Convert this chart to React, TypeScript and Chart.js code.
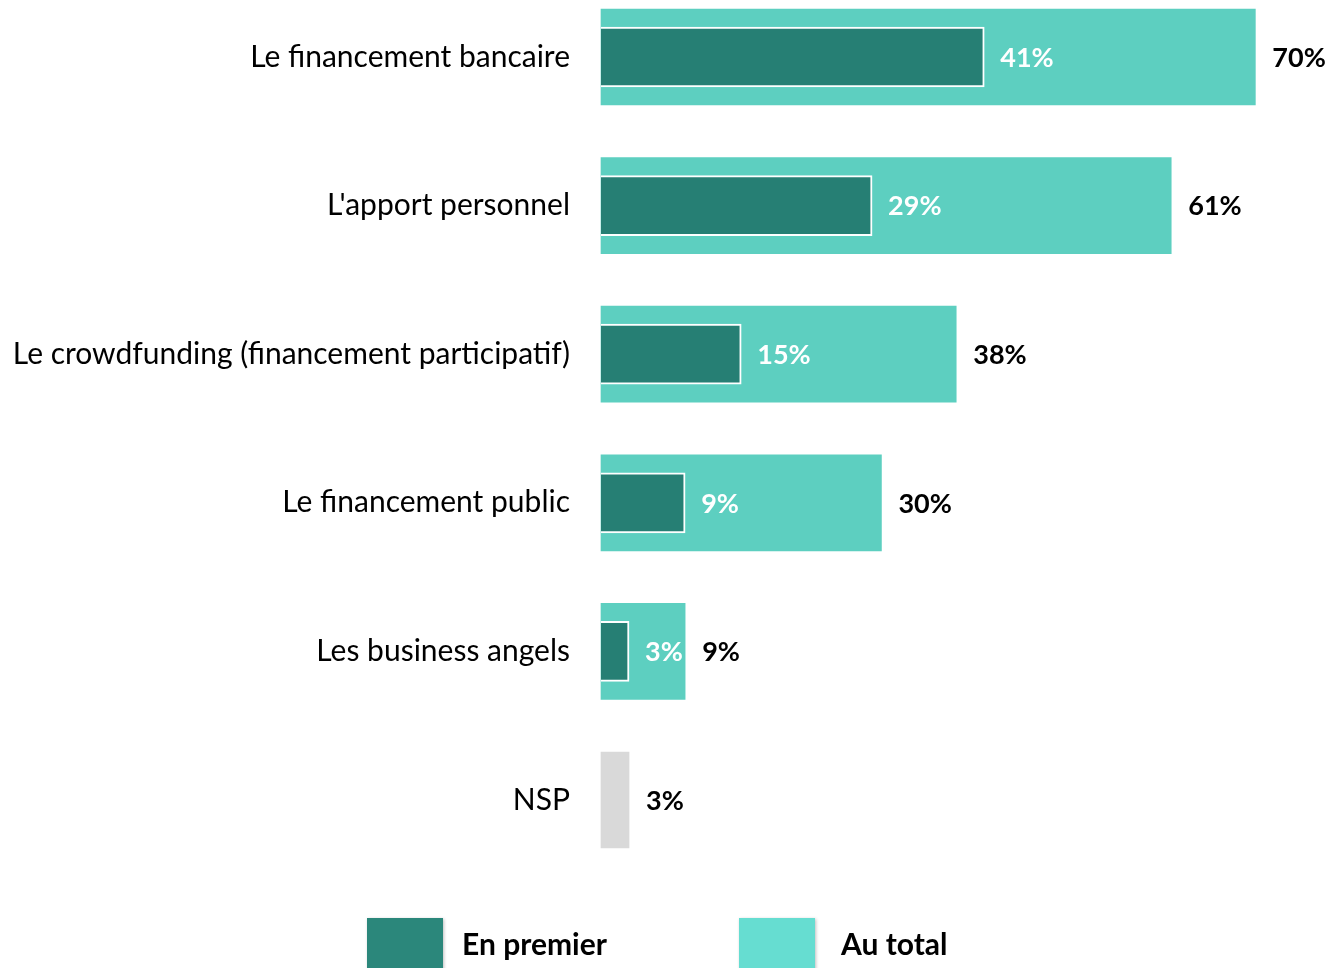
import React, { useEffect, useRef } from "react";
import { Chart, registerables } from "chart.js";

Chart.register(...registerables);

const CATEGORIES = [
  "Le financement bancaire",
  "L'apport personnel",
  "Le crowdfunding (financement participatif)",
  "Le financement public",
  "Les business angels",
  "NSP",
];
const EN_PREMIER: (number | null)[] = [41, 29, 15, 9, 3, null];
const AU_TOTAL = [70, 61, 38, 30, 9, 3];
const SERIES_NAMES = ["En premier", "Au total"];

const DARK = "#267F74";
const LIGHT = "#5DCFC0";
const GRAY = "#D9D9D9";
const LEGEND_DARK = "#2B877B";
const LEGEND_LIGHT = "#66DDD1";
const X_MAX = 78.2;
const FONT = "Lato, 'Open Sans', sans-serif";

const valueLabels = {
  id: "valueLabels",
  afterDatasetsDraw(chart: any) {
    const ctx = chart.ctx;
    ctx.save();
    ctx.textBaseline = "middle";
    ctx.textAlign = "left";
    ctx.font = `bold 27px ${FONT}`;
    chart.data.datasets.forEach((ds: any, di: number) => {
      const meta = chart.getDatasetMeta(di);
      meta.data.forEach((el: any, i: number) => {
        const v = ds.data[i];
        if (v === null || v === undefined) return;
        ctx.fillStyle = di === 0 ? "#FFFFFF" : "#000000";
        const off = di === 0 ? 16 : 17;
        ctx.fillText(`${v}%`, el.x + off, el.y + 1);
      });
    });
    ctx.restore();
  },
};

const customLegend = {
  id: "customLegend",
  afterDraw(chart: any) {
    const ctx = chart.ctx;
    const cx = chart.width / 2;
    const top = 918;
    const items = [
      { x: cx - 299, tx: cx - 204, color: LEGEND_DARK, text: SERIES_NAMES[0] },
      { x: cx + 73, tx: cx + 175, color: LEGEND_LIGHT, text: SERIES_NAMES[1] },
    ];
    ctx.save();
    ctx.font = `bold 30px ${FONT}`;
    ctx.textBaseline = "middle";
    ctx.textAlign = "left";
    items.forEach((it) => {
      ctx.shadowColor = "rgba(0,0,0,0.25)";
      ctx.shadowBlur = 3;
      ctx.shadowOffsetX = 1;
      ctx.shadowOffsetY = 1;
      ctx.fillStyle = it.color;
      ctx.fillRect(it.x, top, 76, 60);
      ctx.shadowColor = "transparent";
      ctx.fillStyle = "#000";
      ctx.fillText(it.text, it.tx, 945);
    });
    ctx.restore();
  },
};

export default function App() {
  const ref = useRef<HTMLCanvasElement>(null);
  useEffect(() => {
    document.body.style.margin = "0";
    const chart = new Chart(ref.current!, {
      type: "bar",
      data: {
        labels: CATEGORIES,
        datasets: [
          {
            label: SERIES_NAMES[0],
            data: EN_PREMIER,
            backgroundColor: DARK,
            borderColor: "#FFFFFF",
            borderWidth: 2,
            borderSkipped: "start",
            barThickness: 60,
          },
          {
            label: SERIES_NAMES[1],
            data: AU_TOTAL,
            backgroundColor: AU_TOTAL.map((_, i) => (i === AU_TOTAL.length - 1 ? GRAY : LIGHT)),
            borderWidth: 0,
            barThickness: 96,
          },
        ],
      },
      options: {
        indexAxis: "y",
        animation: false,
        responsive: false,
        layout: { padding: { top: 57, bottom: 168, left: 0, right: 0 } },
        datasets: { bar: { grouped: false, clip: false } as any },
        plugins: {
          legend: { display: false },
          tooltip: { enabled: false },
        },
        scales: {
          x: {
            display: false,
            min: 0,
            max: X_MAX,
          },
          y: {
            offset: false,
            grid: { display: false, drawTicks: false },
            border: { display: false },
            afterFit(scale: any) {
              scale.width = 601;
            },
            ticks: {
              padding: 31,
              color: "#000",
              font: { family: FONT, size: 30 },
            },
          },
        },
      },
      plugins: [valueLabels, customLegend],
    });
    return () => chart.destroy();
  }, []);
  return (
    <div style={{ width: 1332, height: 968 }}>
      <canvas ref={ref} width={1332} height={968} style={{ display: "block" }} />
    </div>
  );
}
